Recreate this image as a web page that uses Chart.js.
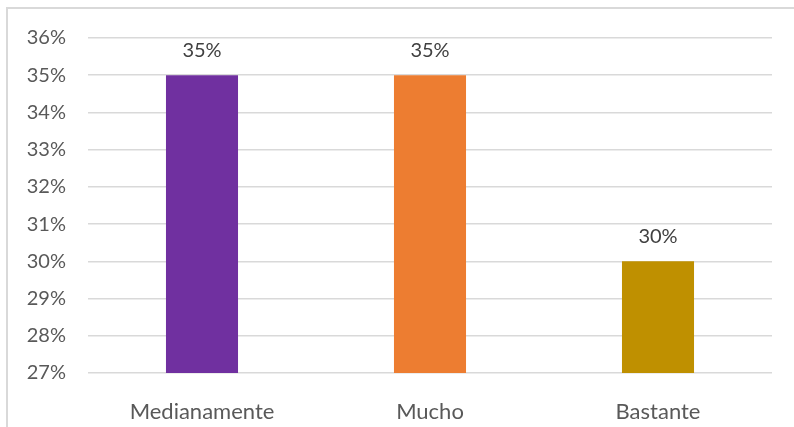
<!DOCTYPE html>
<html>
<head>
<meta charset="utf-8">
<script src="https://cdn.jsdelivr.net/npm/chart.js@4"></script>
<style>
  body { margin: 0; background: #fff; }
  #wrap { position: relative; width: 794px; height: 427px; overflow: hidden; }
  #frame { position: absolute; left: 6px; top: 7px; width: 820px; height: 440px; border: 2px solid #d9d9d9; box-sizing: border-box; }
  #chart { position: absolute; left: 0; top: 0; }
</style>
</head>
<body>
<div id="wrap">
  <div id="frame"></div>
  <canvas id="chart" width="794" height="427"></canvas>
</div>
<script>
  const categories = ["Medianamente", "Mucho", "Bastante"];
  const values = [35, 35, 30];
  const barColors = ["#7030A0", "#ED7D31", "#BF9000"];
  const yMin = 27;
  const yMax = 36;

  const fontFamily = "Lato, 'Open Sans', sans-serif";

  // etiquetas encima de cada barra
  const valueLabels = {
    id: "valueLabels",
    afterDatasetsDraw(chart) {
      const ctx = chart.ctx;
      const meta = chart.getDatasetMeta(0);
      ctx.save();
      ctx.fillStyle = "#404040";
      ctx.font = "20px " + fontFamily;
      ctx.textAlign = "center";
      ctx.textBaseline = "middle";
      meta.data.forEach((bar, i) => {
        ctx.fillText(values[i] + "%", bar.x, bar.y - 25);
      });
      ctx.restore();
    },
  };

  const ctx = document.getElementById("chart").getContext("2d");
  new Chart(ctx, {
    type: "bar",
    data: {
      labels: categories,
      datasets: [
        {
          data: values,
          backgroundColor: barColors,
          categoryPercentage: 1,
          barPercentage: 0.316,
        },
      ],
    },
    options: {
      responsive: false,
      animation: false,
      layout: { padding: { top: 38, right: 22, left: 0, bottom: 0 } },
      plugins: {
        legend: { display: false },
        tooltip: { enabled: false },
      },
      scales: {
        x: {
          grid: { display: false },
          border: { display: false },
          ticks: {
            color: "#595959",
            font: { size: 22, family: fontFamily },
            padding: 18,
          },
          afterFit: (scale) => { scale.height = 54; },
        },
        y: {
          min: yMin,
          max: yMax,
          grid: { color: "#d9d9d9", lineWidth: 1.5, drawTicks: false },
          border: { display: false },
          ticks: {
            stepSize: 1,
            color: "#595959",
            font: { size: 20, family: fontFamily },
            padding: 22,
            callback: (v) => v + "%",
          },
          afterFit: (scale) => { scale.width = 88; },
        },
      },
    },
    plugins: [valueLabels],
  });
</script>
</body>
</html>
